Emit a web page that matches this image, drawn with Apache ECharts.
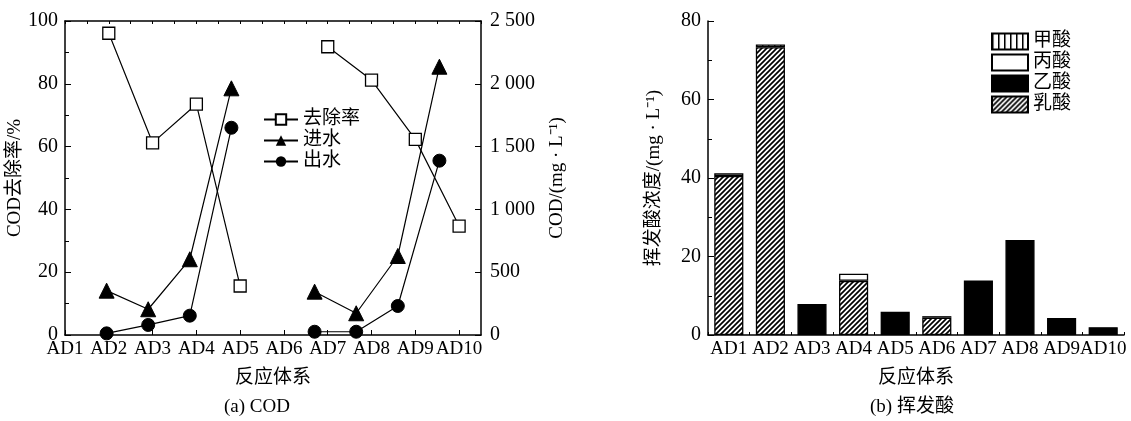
<!DOCTYPE html>
<html>
<head>
<meta charset="utf-8">
<script src="https://cdn.jsdelivr.net/npm/echarts@6/dist/echarts.min.js"></script>
<style>html,body{margin:0;padding:0;background:#fff;}#c{width:1131px;height:421px;}</style>
</head>
<body>
<div id="c"></div>
<script>
// ---- data ----
const categories = ['AD1','AD2','AD3','AD4','AD5','AD6','AD7','AD8','AD9','AD10'];
// (a) COD
const removalRate = [null, 96.1, 61.2, 73.5, 15.6, null, 91.8, 81.2, 62.3, 34.7];   // %
const influentCOD = [null, 353, 205, 603, 1964, null, 345, 173, 629, 2136];         // mg/L
const effluentCOD = [null, 13, 80, 154, 1650, null, 26, 26, 231, 1388];             // mg/L
const leftTicks = [0, 20, 40, 60, 80, 100];
const rightTicks = [0, 500, 1000, 1500, 2000, 2500];
// (b) volatile acids (mg/L)
const lacticAcid = [40.5, 73.3, 0, 13.8, 0, 4.4, 0, 0, 0, 0];
const aceticAcid = [0, 0, 7.9, 0, 5.9, 0, 13.9, 24.2, 4.3, 2.0];
const propionicAcid = [0.7, 0, 0, 1.8, 0, 0.4, 0, 0, 0, 0];
const formicAcid = [0, 0.7, 0, 0, 0, 0, 0, 0, 0, 0];
const vfaTicks = [0, 20, 40, 60, 80];

// ---- patterns ----
function hatchCanvas(){
  const n = 5, c = document.createElement('canvas'); c.width = n; c.height = n;
  const g = c.getContext('2d');
  g.fillStyle = '#fff'; g.fillRect(0,0,n,n);
  g.strokeStyle = '#000'; g.lineWidth = 1.7; g.beginPath();
  g.moveTo(0,n); g.lineTo(n,0);
  g.moveTo(-1,1); g.lineTo(1,-1);
  g.moveTo(n-1,n+1); g.lineTo(n+1,n-1);
  g.stroke(); return c;
}
function vlineCanvas(){
  const c = document.createElement('canvas'); c.width = 6; c.height = 4;
  const g = c.getContext('2d');
  g.fillStyle = '#fff'; g.fillRect(0,0,6,4);
  g.fillStyle = '#000'; g.fillRect(0,0,1.5,4);
  return c;
}
const hatch = {image: hatchCanvas(), repeat: 'repeat'};
const vlines = {image: vlineCanvas(), repeat: 'repeat'};

const FONT = '"Liberation Serif", "Noto Sans CJK SC", serif';
const BLACK = '#000';
const txt = (size) => ({color: BLACK, fontFamily: FONT, fontSize: size});

const pts = (arr) => arr.map((v, i) => [i + 1, v == null ? '-' : v]);
const bars = (arr) => arr.map(v => v === 0 ? '-' : v);
const fmtThousands = (v) => { const s = String(v); return s.length > 3 ? s.slice(0, s.length-3) + ' ' + s.slice(-3) : s; };

const axisLine = {show: true, lineStyle: {color: BLACK, width: 1.5}};

const chart = echarts.init(document.getElementById('c'));
chart.setOption({
  backgroundColor: '#fff',
  animation: false,
  grid: [
    {left: 65, top: 21, width: 416, height: 314},
    {left: 708, top: 21, width: 416, height: 314}
  ],
  xAxis: [
    { // 0: visible category positions for left chart
      type: 'value', gridIndex: 0, min: 1, max: 10.5, interval: 1, position: 'bottom',
      axisLine: axisLine, splitLine: {show: false},
      axisTick: {show: true, inside: true, length: 5, lineStyle: {color: BLACK}},
      axisLabel: Object.assign(txt(19), {margin: 5, showMaxLabel: false,
        formatter: v => Number.isInteger(v) ? categories[v - 1] : ''}),
      name: '反应体系', nameLocation: 'middle', nameGap: 34, nameTextStyle: txt(19)
    },
    { // 1: hidden scale used by COD series
      type: 'value', gridIndex: 0, min: 1, max: 11, show: false
    },
    { // 2: top mirror border
      type: 'value', gridIndex: 0, min: 1, max: 10.5, interval: 0.5, position: 'top',
      axisLine: axisLine, splitLine: {show: false},
      axisTick: {show: true, inside: true, length: 3, lineStyle: {color: BLACK}},
      axisLabel: {show: false}
    },
    { // 3: right chart category axis
      type: 'category', gridIndex: 1, data: categories, boundaryGap: true,
      axisLine: axisLine,
      axisTick: {show: true, inside: true, length: 3, lineStyle: {color: BLACK}},
      axisLabel: Object.assign(txt(19), {margin: 5, interval: 0}),
      name: '反应体系', nameLocation: 'middle', nameGap: 34, nameTextStyle: txt(19)
    }
  ],
  yAxis: [
    { // left chart, removal rate
      type: 'value', gridIndex: 0, min: leftTicks[0], max: leftTicks[leftTicks.length-1], interval: 20,
      axisLine: axisLine, splitLine: {show: false},
      axisTick: {show: true, inside: true, length: 6, lineStyle: {color: BLACK}},
      minorTick: {show: true, splitNumber: 2, length: 4, lineStyle: {color: BLACK}},
      axisLabel: Object.assign(txt(20), {margin: 7}),
      name: 'COD去除率/%', nameLocation: 'middle', nameRotate: 90, nameGap: 34, nameTextStyle: txt(19)
    },
    { // left chart, COD
      type: 'value', gridIndex: 0, position: 'right', min: rightTicks[0], max: rightTicks[rightTicks.length-1], interval: 500,
      axisLine: axisLine, splitLine: {show: false},
      axisTick: {show: true, inside: true, length: 6, lineStyle: {color: BLACK}},
      axisLabel: Object.assign(txt(20), {margin: 9, formatter: fmtThousands}),
      name: 'COD/(mg · L⁻¹)', nameLocation: 'middle', nameRotate: 90, nameGap: 67, nameTextStyle: txt(19)
    },
    { // right chart
      type: 'value', gridIndex: 1, min: vfaTicks[0], max: vfaTicks[vfaTicks.length-1], interval: 20,
      axisLine: axisLine, splitLine: {show: false},
      axisTick: {show: true, inside: true, length: 6, lineStyle: {color: BLACK}},
      minorTick: {show: true, splitNumber: 2, length: 4, lineStyle: {color: BLACK}},
      axisLabel: Object.assign(txt(20), {margin: 7}),
      name: '挥发酸浓度/(mg · L⁻¹)', nameLocation: 'middle', nameRotate: 90, nameGap: 44, nameTextStyle: txt(19)
    }
  ],
  legend: [
    {
      data: ['去除率', '进水', '出水'], orient: 'vertical', left: 258, top: 105,
      itemWidth: 34, itemHeight: 13, itemGap: 2, itemTextGap: 3,
      textStyle: Object.assign(txt(19), {lineHeight: 19}), selectedMode: false
    },
    {
      data: ['甲酸', '丙酸', '乙酸', '乳酸'], orient: 'vertical', left: 986, top: 27,
      itemWidth: 36, itemHeight: 16, itemGap: 2, itemTextGap: 5, icon: 'rect',
      textStyle: Object.assign(txt(19), {lineHeight: 19}), selectedMode: false
    }
  ],
  series: [
    {
      name: '去除率', type: 'line', xAxisIndex: 0, yAxisIndex: 0, data: pts(removalRate),
      symbol: 'rect', symbolSize: 12, connectNulls: false,
      lineStyle: {color: BLACK, width: 1.2},
      itemStyle: {color: '#fff', borderColor: BLACK, borderWidth: 1.3}
    },
    {
      name: '进水', type: 'line', xAxisIndex: 1, yAxisIndex: 1, data: pts(influentCOD),
      symbol: 'triangle', symbolSize: 15, connectNulls: false,
      lineStyle: {color: BLACK, width: 1.2},
      itemStyle: {color: BLACK, borderColor: BLACK}
    },
    {
      name: '出水', type: 'line', xAxisIndex: 1, yAxisIndex: 1, data: pts(effluentCOD),
      symbol: 'circle', symbolSize: 13, connectNulls: false,
      lineStyle: {color: BLACK, width: 1.2},
      itemStyle: {color: BLACK, borderColor: BLACK}
    },
    {
      name: '乳酸', type: 'bar', xAxisIndex: 3, yAxisIndex: 2, stack: 'vfa', barWidth: '70%',
      data: bars(lacticAcid), itemStyle: {color: hatch, borderColor: BLACK, borderWidth: 1.3}
    },
    {
      name: '乙酸', type: 'bar', xAxisIndex: 3, yAxisIndex: 2, stack: 'vfa', barWidth: '70%',
      data: bars(aceticAcid), itemStyle: {color: BLACK, borderColor: BLACK, borderWidth: 1.3}
    },
    {
      name: '丙酸', type: 'bar', xAxisIndex: 3, yAxisIndex: 2, stack: 'vfa', barWidth: '70%',
      data: bars(propionicAcid), itemStyle: {color: '#fff', borderColor: BLACK, borderWidth: 1.3}
    },
    {
      name: '甲酸', type: 'bar', xAxisIndex: 3, yAxisIndex: 2, stack: 'vfa', barWidth: '70%',
      data: bars(formicAcid), itemStyle: {color: vlines, borderColor: BLACK, borderWidth: 1.3}
    }
  ],
  graphic: [
    {type: 'text', x: 257, y: 407, style: {text: '(a) COD', fill: BLACK, font: '19px ' + FONT, align: 'center', verticalAlign: 'middle'}},
    {type: 'text', x: 912, y: 407, style: {text: '(b) 挥发酸', fill: BLACK, font: '19px ' + FONT, align: 'center', verticalAlign: 'middle'}}
  ]
});
</script>
</body>
</html>
